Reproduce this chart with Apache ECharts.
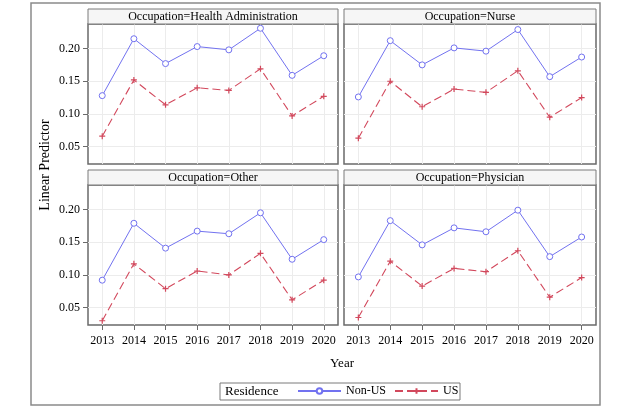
<!DOCTYPE html>
<html><head><meta charset="utf-8">
<script src="https://cdn.jsdelivr.net/npm/echarts@6/dist/echarts.min.js"></script>
<style>html,body{margin:0;padding:0;background:#fff}#c{width:633px;height:410px}</style>
</head><body><div id="c"></div>
<script>
const years = [2013, 2014, 2015, 2016, 2017, 2018, 2019, 2020];
const panelTitles = ['Occupation=Health Administration', 'Occupation=Nurse', 'Occupation=Other', 'Occupation=Physician'];
const yTicks = [0.05, 0.10, 0.15, 0.20];
const healthAdminNonUS = [0.128, 0.215, 0.177, 0.203, 0.198, 0.231, 0.159, 0.189];
const healthAdminUS    = [0.066, 0.152, 0.114, 0.140, 0.136, 0.169, 0.097, 0.127];
const nurseNonUS       = [0.126, 0.212, 0.175, 0.201, 0.196, 0.229, 0.157, 0.187];
const nurseUS          = [0.063, 0.150, 0.111, 0.138, 0.133, 0.166, 0.095, 0.125];
const otherNonUS       = [0.092, 0.179, 0.141, 0.167, 0.163, 0.195, 0.124, 0.154];
const otherUS          = [0.030, 0.117, 0.079, 0.106, 0.100, 0.133, 0.062, 0.092];
const physicianNonUS   = [0.097, 0.183, 0.146, 0.172, 0.166, 0.199, 0.128, 0.158];
const physicianUS      = [0.035, 0.121, 0.083, 0.110, 0.105, 0.137, 0.066, 0.096];

const nonUSByPanel = [healthAdminNonUS, nurseNonUS, otherNonUS, physicianNonUS];
const usByPanel = [healthAdminUS, nurseUS, otherUS, physicianUS];

const FONT = '"Liberation Serif", "DejaVu Serif", serif';
const BLUE = '#7272f0';
const RED = '#d2485c';
const FRAME = '#6a6a6a';
const GRIDC = '#ececec';

const boxes = [
  {left: 88, top: 24, width: 250, height: 140},
  {left: 344, top: 24, width: 252, height: 140},
  {left: 88, top: 185, width: 250, height: 140},
  {left: 344, top: 185, width: 252, height: 140}
];

const grids = [], xAxes = [], yAxes = [], series = [], graphics = [];
boxes.forEach((b, i) => {
  const isLeft = i % 2 === 0, isBottom = i >= 2;
  grids.push({left: b.left, top: b.top, width: b.width, height: b.height,
    show: true, borderColor: FRAME, borderWidth: 1.5, backgroundColor: '#fff', containLabel: false});
  xAxes.push({type: 'value', gridIndex: i, min: 2012.55, max: 2020.45,
    axisLine: {show: false},
    axisTick: {show: isBottom, length: 5, lineStyle: {color: FRAME}, customValues: years},
    axisLabel: {show: isBottom, fontFamily: FONT, fontSize: 12, color: '#000', margin: 10,
      customValues: years, formatter: v => String(Math.round(v))},
    splitLine: {show: true, lineStyle: {color: GRIDC, width: 1}, customValues: years}
  });
  yAxes.push({type: 'value', gridIndex: i, min: 0.0235, max: 0.2375,
    axisLine: {show: false},
    axisTick: {show: isLeft, length: 5, lineStyle: {color: FRAME}, customValues: yTicks},
    axisLabel: {show: isLeft, fontFamily: FONT, fontSize: 12, color: '#000', margin: 8,
      customValues: yTicks, formatter: v => v.toFixed(2)},
    splitLine: {show: true, lineStyle: {color: GRIDC, width: 1}, customValues: yTicks}
  });
  series.push({name: 'Non-US', type: 'line', xAxisIndex: i, yAxisIndex: i,
    data: years.map((y, k) => [y, nonUSByPanel[i][k]]),
    symbol: 'circle', symbolSize: 6, showSymbol: true,
    lineStyle: {color: BLUE, width: 1},
    itemStyle: {color: '#fff', borderColor: BLUE, borderWidth: 1},
    emphasis: {disabled: true}, animation: false, z: 3
  });
  series.push({name: 'US', type: 'line', xAxisIndex: i, yAxisIndex: i,
    data: years.map((y, k) => [y, usByPanel[i][k]]),
    symbol: 'path://M5,0 L5,10 M0,5 L10,5', symbolSize: 6, showSymbol: true,
    lineStyle: {color: RED, width: 1.1, type: [8, 4]},
    itemStyle: {color: RED, borderColor: RED, borderWidth: 1.2},
    emphasis: {disabled: true}, animation: false, z: 3
  });
  graphics.push({type: 'rect', shape: {x: b.left, y: b.top - 15, width: b.width, height: 15},
    style: {fill: '#f6f6f6', stroke: '#7a7a7a', lineWidth: 1}, z: 10});
  graphics.push({type: 'text', x: b.left + b.width / 2, y: b.top - 7.5,
    style: {text: panelTitles[i], font: '12px ' + FONT, fill: '#000', align: 'center', verticalAlign: 'middle'}, z: 11});
});

// outer frame
graphics.push({type: 'rect', shape: {x: 31, y: 3, width: 569, height: 402},
  style: {fill: 'none', stroke: '#8a8a8a', lineWidth: 1.5}, z: 0});
// axis titles
graphics.push({type: 'text', x: 342, y: 364,
  style: {text: 'Year', font: '13px ' + FONT, fill: '#000', align: 'center', verticalAlign: 'middle'}, z: 11});
graphics.push({type: 'text', x: 45, y: 165, rotation: Math.PI / 2,
  style: {text: 'Linear Predictor', font: '14px ' + FONT, fill: '#000', align: 'center', verticalAlign: 'middle'}, z: 11});
// legend box
graphics.push({type: 'rect', shape: {x: 220, y: 383, width: 240, height: 17},
  style: {fill: '#fff', stroke: '#7a7a7a', lineWidth: 1}, z: 5});
graphics.push({type: 'text', x: 225, y: 391.5,
  style: {text: 'Residence', font: '13px ' + FONT, fill: '#000', align: 'left', verticalAlign: 'middle'}, z: 11});

const chart = echarts.init(document.getElementById('c'), null, {renderer: 'canvas'});
chart.setOption({
  animation: false,
  backgroundColor: '#fff',
  grid: grids, xAxis: xAxes, yAxis: yAxes, series: series,
  legend: {data: ['Non-US', 'US'], left: 297, top: 385, itemWidth: 43, itemHeight: 7, itemGap: 8,
    padding: 0, selectedMode: false, z: 12,
    textStyle: {fontFamily: FONT, fontSize: 12, color: '#000', padding: [0, 0, 0, 0]}},
  graphic: graphics
});
</script></body></html>
